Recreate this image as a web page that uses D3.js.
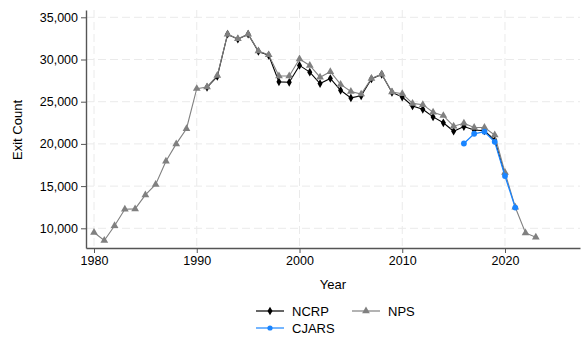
<!DOCTYPE html>
<html><head><meta charset="utf-8">
<script src="https://cdn.jsdelivr.net/npm/d3@7"></script>
<style>body{margin:0;background:#fff}svg{display:block}text{font-family:"Liberation Sans",Arial,sans-serif}</style>
</head><body><svg id="c" width="581" height="339"></svg>
<script>
const npsYears = [1980,1981,1982,1983,1984,1985,1986,1987,1988,1989,1990,1991,1992,1993,1994,1995,1996,1997,1998,1999,2000,2001,2002,2003,2004,2005,2006,2007,2008,2009,2010,2011,2012,2013,2014,2015,2016,2017,2018,2019,2020,2021,2022,2023];
const npsValues = [9500,8550,10300,12250,12300,13950,15200,17950,20000,21800,26550,26750,28100,33000,32450,33000,31000,30550,28050,28050,30050,29300,27900,28550,27050,26200,25900,27750,28250,26150,25950,24800,24650,23750,23350,22100,22450,21950,21950,21050,16600,12500,9450,8950];
const ncrpYears = [1991,1992,1993,1994,1995,1996,1997,1998,1999,2000,2001,2002,2003,2004,2005,2006,2007,2008,2009,2010,2011,2012,2013,2014,2015,2016,2017,2018,2019,2020];
const ncrpValues = [26700,28000,33000,32400,33000,30950,30500,27350,27300,29300,28500,27150,27750,26350,25450,25700,27700,28250,26100,25550,24500,24100,23200,22500,21500,22050,21650,21550,20450,16350];
const cjarsYears = [2016,2017,2018,2019,2020,2021];
const cjarsValues = [20050,21200,21450,20250,16200,12450];
const xTicks = [1980,1990,2000,2010,2020];
const yTicks = [10000,15000,20000,25000,30000,35000];

const svg = d3.select("#c");
const x = d3.scaleLinear().domain([1979.22, 2027.3]).range([86, 580]);
const y = d3.scaleLinear().domain([7666, 35865]).range([248, 10]);
const fmt = d3.format(",");

// grid
const g = svg.append("g");
g.selectAll("line.h").data(yTicks).join("line")
  .attr("x1",86).attr("x2",580).attr("y1",d=>y(d)).attr("y2",d=>y(d))
  .attr("stroke","#eaeaea").attr("stroke-width",1).attr("stroke-dasharray","8,4");
g.selectAll("line.v").data(xTicks).join("line")
  .attr("y1",10).attr("y2",248).attr("x1",d=>x(d)).attr("x2",d=>x(d))
  .attr("stroke","#eaeaea").attr("stroke-width",1).attr("stroke-dasharray","8,4");

// axes
const ya = svg.append("g").attr("transform","translate(86,0)")
  .call(d3.axisLeft(y).tickValues(yTicks).tickFormat(fmt).tickSize(5).tickPadding(3).tickSizeOuter(0));
const xa = svg.append("g").attr("transform","translate(0,248)")
  .call(d3.axisBottom(x).tickValues(xTicks).tickFormat(d3.format("d")).tickSize(5).tickPadding(3).tickSizeOuter(0));
[ya,xa].forEach(a=>{
  a.select(".domain").attr("stroke","#555").attr("stroke-width",1.4);
  a.selectAll(".tick line").attr("stroke","#555").attr("stroke-width",1);
  a.selectAll("text").attr("fill","#000").style("font-size","12.5px").style("font-family","'Liberation Sans',Arial,sans-serif");
});

svg.append("text").attr("x",333).attr("y",289).attr("text-anchor","middle").style("font-size","13px").text("Year");
svg.append("text").attr("transform","translate(22,130) rotate(-90)").attr("text-anchor","middle").style("font-size","13px").text("Exit Count");

const line = d3.line().x(d=>x(d[0])).y(d=>y(d[1]));
const tri = d3.symbol().type(d3.symbolTriangle).size(26);
const dia = d3.symbol().type(d3.symbolDiamond).size(22);

function series(years, vals, color, sym, w){
  const pts = years.map((yr,i)=>[yr, vals[i]]);
  svg.append("path").datum(pts).attr("d",line).attr("fill","none").attr("stroke",color).attr("stroke-width",w);
  const m = svg.append("g");
  if(sym==="circle"){
    m.selectAll("circle").data(pts).join("circle").attr("cx",d=>x(d[0])).attr("cy",d=>y(d[1])).attr("r",2.9).attr("fill",color);
  } else {
    m.selectAll("path").data(pts).join("path").attr("d", sym==="tri"?tri:dia)
      .attr("transform",d=>`translate(${x(d[0])},${y(d[1])})`).attr("fill",color);
  }
}
series(ncrpYears, ncrpValues, "#000000", "dia", 1.1);
series(npsYears, npsValues, "#808080", "tri", 1.1);
series(cjarsYears, cjarsValues, "#1a85ff", "circle", 1.3);

// legend
const leg = [
  {name:"NCRP", color:"#000000", sym:"dia", lx:256, ly:311},
  {name:"NPS", color:"#808080", sym:"tri", lx:352, ly:311},
  {name:"CJARS", color:"#1a85ff", sym:"circle", lx:256, ly:328}
];
leg.forEach(l=>{
  svg.append("line").attr("x1",l.lx).attr("x2",l.lx+28).attr("y1",l.ly).attr("y2",l.ly).attr("stroke",l.color).attr("stroke-width",1.2);
  const cx = l.lx+14;
  if(l.sym==="circle") svg.append("circle").attr("cx",cx).attr("cy",l.ly).attr("r",2.6).attr("fill",l.color);
  else svg.append("path").attr("d",l.sym==="tri"?tri:dia).attr("transform",`translate(${cx},${l.ly})`).attr("fill",l.color);
  svg.append("text").attr("x",l.lx+36).attr("y",l.ly+4.5).style("font-size","13px").text(l.name);
});
</script></body></html>
